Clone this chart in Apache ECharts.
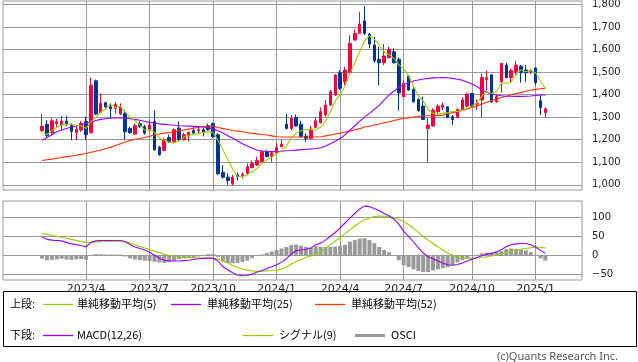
<!DOCTYPE html>
<html><head><meta charset="utf-8">
<script src="https://cdn.jsdelivr.net/npm/echarts@6/dist/echarts.min.js"></script>
<style>html,body{margin:0;padding:0;background:#fff}#c{width:638px;height:362px}</style>
</head><body><div id="c"></div>
<script>
// week index of the first candle (weekly bars, index 17 = first week of 2023/4)
const firstIndex = 8;
const open = [1240,1268,1231,1271,1265,1283,1263,1231,1243,1281,
1231,1461,1320,1364,1346,1339,1314,1317,1250,1225,
1271,1259,1244,1281,1167,1152,1210,1192,1251,1200,
1217,1241,1240,1244,1262,1271,1222,1055,1034,1005,
1044,1040,1051,1077,1088,1102,1147,1125,1142,1169,
1269,1250,1298,1269,1216,1206,1255,1275,1309,1354,
1398,1497,1457,1497,1642,1671,1727,1668,1620,1556,
1541,1565,1590,1556,1391,1482,1423,1379,1349,1250,
1261,1324,1343,1346,1302,1299,1334,1349,1405,1358,
1376,1467,1487,1368,1457,1531,1476,1501,1526,1509,
1500,1518,1373,1320];
const close = [1260,1219,1284,1280,1283,1272,1237,1246,1272,1222,
1442,1314,1361,1346,1337,1356,1346,1235,1231,1262,
1259,1229,1266,1155,1133,1200,1192,1244,1200,1222,
1232,1229,1244,1232,1244,1214,1049,1034,1019,1034,
1037,1046,1080,1095,1107,1147,1125,1142,1165,1181,
1250,1295,1261,1213,1206,1246,1284,1324,1354,1413,
1487,1428,1509,1627,1671,1713,1671,1624,1550,1541,
1571,1600,1541,1408,1450,1420,1368,1329,1290,1265,
1331,1349,1354,1299,1290,1334,1376,1402,1349,1361,
1476,1475,1368,1391,1538,1476,1506,1531,1497,1497,
1506,1453,1343,1337];
const low = [1235,1210,1221,1252,1243,1260,1198,1198,1235,1198,
1228,1309,1317,1339,1295,1314,1309,1198,1225,1221,
1252,1222,1237,1152,1129,1149,1185,1188,1192,1197,
1192,1226,1226,1214,1241,1207,1044,1028,1000,996,
1019,1028,1043,1073,1083,1098,1122,1102,1136,1166,
1246,1240,1258,1210,1191,1201,1250,1272,1302,1349,
1395,1420,1442,1494,1639,1668,1664,1605,1541,1442,
1531,1560,1538,1329,1388,1417,1364,1324,1287,1100,
1258,1317,1331,1295,1265,1295,1331,1343,1346,1331,
1299,1417,1364,1364,1408,1472,1453,1487,1453,1457,
1491,1442,1309,1299];
const high = [1314,1287,1295,1293,1305,1306,1272,1261,1283,1302,
1475,1467,1405,1368,1361,1368,1361,1331,1258,1272,
1281,1266,1288,1330,1173,1207,1222,1251,1281,1232,
1237,1259,1262,1251,1271,1277,1229,1087,1052,1044,
1055,1055,1095,1107,1125,1154,1154,1147,1184,1201,
1314,1309,1312,1284,1228,1261,1299,1343,1376,1420,
1491,1509,1524,1664,1689,1767,1792,1674,1656,1612,
1624,1612,1605,1565,1464,1487,1432,1383,1391,1295,
1339,1358,1364,1349,1309,1339,1388,1408,1408,1379,
1494,1506,1491,1402,1541,1541,1516,1550,1531,1531,
1512,1521,1398,1343];
const ma5 = [1235,1222,1240,1256,1265,1268,1270,1264,1262,1250,
1280,1299,1322,1337,1360,1343,1348,1322,1300,1285,
1266,1243,1245,1232,1208,1197,1189,1185,1194,1212,
1218,1225,1226,1232,1236,1233,1197,1155,1112,1070,
1038,1036,1045,1058,1073,1095,1111,1123,1137,1152,
1173,1207,1230,1240,1245,1244,1243,1256,1283,1324,
1372,1401,1438,1493,1544,1590,1638,1661,1646,1620,
1591,1577,1561,1532,1514,1484,1437,1395,1371,1334,
1317,1313,1318,1320,1325,1325,1331,1340,1350,1364,
1393,1413,1406,1414,1450,1450,1456,1488,1510,1501,
1507,1497,1459,1427];
const ma25 = [1197,1210,1222,1235,1243,1250,1256,1261,1266,1272,
1278,1285,1290,1293,1295,1296,1297,1296,1293,1290,
1286,1281,1277,1274,1270,1268,1266,1264,1262,1261,
1260,1259,1258,1256,1253,1248,1240,1230,1218,1206,
1194,1182,1172,1162,1153,1150,1148,1147,1147,1149,
1151,1152,1154,1156,1157,1159,1161,1164,1172,1182,
1193,1205,1222,1242,1262,1282,1300,1317,1335,1352,
1375,1398,1415,1432,1445,1453,1460,1465,1469,1472,
1474,1475,1476,1475,1472,1468,1464,1456,1447,1436,
1420,1410,1403,1398,1395,1393,1393,1392,1392,1393,
1394,1396,1398,1398];
const ma52 = [1108,1111,1114,1118,1121,1125,1128,1131,1135,1139,
1144,1149,1154,1160,1166,1174,1182,1190,1196,1202,
1205,1210,1215,1221,1225,1229,1232,1235,1239,1243,
1247,1251,1255,1258,1260,1260,1254,1249,1245,1241,
1238,1235,1231,1228,1226,1223,1221,1217,1213,1212,
1212,1212,1212,1212,1212,1212,1212,1213,1217,1221,
1225,1229,1234,1238,1244,1249,1256,1260,1265,1270,
1275,1280,1285,1290,1295,1297,1300,1303,1305,1306,
1307,1308,1309,1316,1320,1325,1330,1336,1343,1350,
1358,1366,1373,1380,1387,1393,1399,1405,1410,1415,
1419,1423,1426,1428];
const macd = [49,42,40,39,38,34,30,28,26,22,
34,38,39,39,39,39,39,36,28,22,
18,14,8,0,-8,-13,-15,-15,-15,-14,
-13,-11,-9,-8,-7,-8,-15,-30,-38,-46,
-52,-54,-53,-49,-44,-40,-35,-30,-25,-18,
-9,4,12,14,16,19,28,32,40,50,
60,72,85,98,110,122,130,128,123,117,
110,104,95,82,63,50,35,20,6,-4,
-9,-15,-20,-25,-26,-24,-20,-15,-10,-6,
-1,3,5,9,15,23,28,30,31,31,
28,22,13,5];
const signal = [58,55,52,50,47,45,42,39,36,34,
34,35,36,37,37,37,37,36,32,28,
23,19,15,11,7,3,0,-3,-5,-6,
-6,-6,-7,-7,-7,-8,-10,-15,-20,-26,
-32,-36,-39,-41,-42,-42,-41,-40,-39,-36,
-30,-23,-16,-11,-6,-2,3,10,18,28,
37,47,57,67,77,86,93,98,102,103,
103,102,99,95,89,81,72,61,50,40,
31,22,14,6,0,-5,-7,-8,-8,-7,
-6,-4,-2,1,4,7,10,13,16,18,
20,21,21,19];
const osci = [-9,-13,-12,-11,-9,-11,-12,-11,-10,-12,
0,3,3,2,2,2,2,-3,-8,-11,
-13,-14,-15,-17,-19,-20,-18,-15,-10,-8,
-6,-5,-3,0,3,3,-4,-16,-20,-21,
-20,-18,-14,-8,-2,2,6,10,14,18,
22,27,28,25,22,20,24,22,22,22,
23,25,28,36,40,44,45,40,32,22,
14,8,0,-13,-26,-31,-37,-41,-44,-44,
-40,-37,-34,-31,-26,-19,-13,-7,-2,1,
5,7,7,8,11,16,18,17,15,13,
8,1,-8,-14];
const priceTicks = [1000,1100,1200,1300,1400,1500,1600,1700,1800];
const macdTicks = [100,50,0,-50];
const dateTickIndex = [17,30,43,56,69,82,96,109];
const dateLabels = ['2023/4','2023/7','2023/10','2024/1','2024/4','2024/7','2024/10','2025/1'];

const RED = '#f5003c', BLUE = '#003399';
const C5 = '#99cc00', C25 = '#9900ff', C52 = '#ff3300', GRAY = '#999999';
const GRIDC = '#9a9a9a';
const lblFont = 'DejaVu Sans';
const legFont = '11px "Noto Sans CJK JP"';

const pts = arr => arr.map((v, k) => [firstIndex + k, v]);
const candles = open.map((o, k) => [firstIndex + k, o, close[k], low[k], high[k]]);

const hLine = (v, txt, fs) => ({ yAxis: v, label: { show: true, position: 'end', formatter: txt, distance: 10, color: '#222', fontSize: fs, fontFamily: lblFont } });
const vLine = (i, txt) => txt == null ? { xAxis: i } :
  { xAxis: i, label: { show: true, position: 'start', formatter: txt, distance: 4, color: '#222', fontSize: 11, fontFamily: lblFont } };

const mlBase = { silent: true, symbol: ['none', 'none'], z: 1, animation: false,
  lineStyle: { color: GRIDC, width: 1, type: 'solid' }, label: { show: false }, emphasis: { disabled: true } };

const legLine = (x1, y, color, w) => ({ type: 'line', silent: true, shape: { x1: x1, y1: y, x2: x1 + 30, y2: y }, style: { stroke: color, lineWidth: w } });
const legText = (x, y, t) => ({ type: 'text', silent: true, x: x, y: y, style: { text: t, font: legFont, fill: '#000', verticalAlign: 'middle' } });

const chart = echarts.init(document.getElementById('c'), null, { renderer: 'canvas' });
chart.setOption({
  animation: false,
  backgroundColor: '#fff',
  grid: [
    { left: 3, top: 1, width: 579, height: 189, show: true, borderColor: GRIDC, borderWidth: 1, backgroundColor: '#fff' },
    { left: 3, top: 201, width: 579, height: 79, show: true, borderColor: GRIDC, borderWidth: 1, backgroundColor: '#fff' }
  ],
  xAxis: [
    { type: 'value', gridIndex: 0, min: 0, max: 118.5, show: false, splitLine: { show: false } },
    { type: 'value', gridIndex: 1, min: 0, max: 118.5, show: false, splitLine: { show: false } }
  ],
  yAxis: [
    { type: 'value', gridIndex: 0, min: 977, max: 1815, show: false, splitLine: { show: false } },
    { type: 'value', gridIndex: 1, min: -65, max: 142.9, show: false, splitLine: { show: false } }
  ],
  series: [
    { type: 'candlestick', xAxisIndex: 0, yAxisIndex: 0, data: candles, barWidth: 3, z: 3,
      itemStyle: { color: RED, color0: BLUE, borderColor: RED, borderColor0: BLUE, borderColorDoji: RED, borderWidth: 1 },
      markLine: Object.assign({}, mlBase, {
        data: priceTicks.map(v => hLine(v, v.toLocaleString('en-US'), 10)).concat(dateTickIndex.map(i => vLine(i)))
      })
    },
    { type: 'line', xAxisIndex: 0, yAxisIndex: 0, data: pts(ma52), showSymbol: false, z: 4, lineStyle: { color: C52, width: 1.1 } },
    { type: 'line', xAxisIndex: 0, yAxisIndex: 0, data: pts(ma25), showSymbol: false, z: 4, lineStyle: { color: C25, width: 1.1 } },
    { type: 'line', xAxisIndex: 0, yAxisIndex: 0, data: pts(ma5), showSymbol: false, z: 4, lineStyle: { color: C5, width: 1.1 } },
    { type: 'bar', xAxisIndex: 1, yAxisIndex: 1, data: pts(osci), barWidth: 4, z: 2, itemStyle: { color: GRAY },
      markLine: Object.assign({}, mlBase, {
        data: macdTicks.map(v => hLine(v, String(v).replace('-', '\u2212'), 10)).concat(dateTickIndex.map((i, k) => vLine(i, dateLabels[k])))
      })
    },
    { type: 'line', xAxisIndex: 1, yAxisIndex: 1, data: pts(signal), showSymbol: false, z: 4, lineStyle: { color: C5, width: 1.1 } },
    { type: 'line', xAxisIndex: 1, yAxisIndex: 1, data: pts(macd), showSymbol: false, z: 4, lineStyle: { color: C25, width: 1.1 } }
  ],
  graphic: [
    { type: 'rect', silent: true, shape: { x: 3.5, y: 291.5, width: 633, height: 55 }, style: { fill: 'none', stroke: '#000', lineWidth: 1 } },
    legText(10, 304, '上段:'),
    legLine(43, 304.5, C5, 1.3),
    legText(77, 304, '単純移動平均(5)'),
    legLine(171, 304.5, C25, 1.3),
    legText(207, 304, '単純移動平均(25)'),
    legLine(315, 304.5, C52, 1.3),
    legText(351, 304, '単純移動平均(52)'),
    legText(10, 335, '下段:'),
    legLine(43, 335.5, C25, 1.3),
    legText(77, 335, 'MACD(12,26)'),
    legLine(243, 335.5, C5, 1.3),
    legText(279, 335, 'シグナル(9)'),
    legLine(355, 335.5, GRAY, 3),
    legText(391, 335, 'OSCI'),
    { type: 'text', silent: true, x: 618, y: 357, style: { text: '(c)Quants Research Inc.', font: '11px "Noto Sans"', fill: '#555', align: 'right', verticalAlign: 'middle' } }
  ]
});
</script></body></html>
